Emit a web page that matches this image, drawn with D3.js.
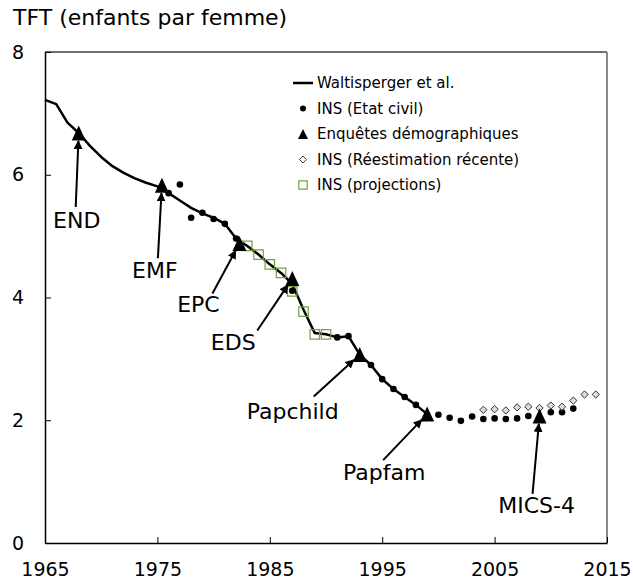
<!DOCTYPE html>
<html>
<head>
<meta charset="utf-8">
<script src="https://cdn.jsdelivr.net/npm/d3@7"></script>
<style>
  body { margin: 0; background: #fff; }
  svg { display: block; font-family: Verdana, "DejaVu Sans", sans-serif; }
</style>
</head>
<body>
<div id="chart"></div>
<script>
// -------------------- Data --------------------

// Waltisperger et al. (line)
const waltYears = [1965, 1966, 1967, 1968, 1969, 1970, 1971, 1972, 1973, 1974, 1975, 1976, 1977,
    1978, 1979, 1980, 1981, 1982, 1983, 1984, 1985, 1986, 1987, 1988, 1989, 1990, 1991, 1992,
    1993, 1994, 1995, 1996, 1997, 1998, 1999];
const waltValues = [7.22, 7.15, 6.85, 6.68, 6.47, 6.29, 6.14, 6.03, 5.94, 5.87, 5.81, 5.70, 5.58,
    5.46, 5.37, 5.30, 5.20, 4.96, 4.84, 4.70, 4.54, 4.40, 4.22, 3.80, 3.42, 3.40, 3.35, 3.37,
    3.07, 2.90, 2.67, 2.51, 2.38, 2.25, 2.10];

// INS (Etat civil)
const civilYears = [1976, 1977, 1978, 1979, 1980, 1981, 1982, 1987, 1991, 1992, 1994, 1995, 1996,
    1997, 1998, 2000, 2001, 2002, 2003, 2004, 2005, 2006, 2007, 2008, 2010, 2011, 2012];
const civilValues = [5.70, 5.84, 5.30, 5.38, 5.28, 5.20, 4.96, 4.11, 3.35, 3.37, 2.90, 2.67, 2.51,
    2.38, 2.25, 2.09, 2.04, 1.99, 2.06, 2.02, 2.03, 2.02, 2.03, 2.07, 2.13, 2.13, 2.19];

// Enquêtes démographiques
const surveyNames = ["END", "EMF", "EPC", "EDS", "Papchild", "Papfam", "MICS-4"];
const surveyYears = [1968, 1975.4, 1982.3, 1987, 1993, 1999, 2009];
const surveyValues = [6.68, 5.83, 4.88, 4.31, 3.07, 2.10, 2.07];

// INS (Réestimation récente)
const reestYears = [2004, 2005, 2006, 2007, 2008, 2009, 2010, 2011, 2012, 2013, 2014];
const reestValues = [2.17, 2.18, 2.16, 2.21, 2.22, 2.20, 2.24, 2.22, 2.32, 2.42, 2.42];

// INS (projections)
const projYears = [1983, 1984, 1985, 1986, 1987, 1988, 1989, 1990];
const projValues = [4.84, 4.70, 4.54, 4.40, 4.10, 3.77, 3.40, 3.40];

const xTicks = [1965, 1975, 1985, 1995, 2005, 2015];
const yTicks = [0, 2, 4, 6, 8];

// label / arrow placement (pixel offsets from each survey point)
const annotLayout = [
    { tail: [-3, 74], label: [-2, 95] },
    { tail: [-4, 73], label: [-7, 93] },
    { tail: [-27, 50], label: [-41, 69] },
    { tail: [-35, 52], label: [-59, 72] },
    { tail: [-46, 42], label: [-67, 64] },
    { tail: [-44, 46], label: [-43, 66] },
    { tail: [-7, 78], label: [-3, 97] }
];

// -------------------- Chart --------------------

const WIDTH = 633;
const HEIGHT = 580;
const margin = { top: 52, right: 26, bottom: 37, left: 45 };

const svg = d3.select("#chart")
    .append("svg")
    .attr("width", WIDTH)
    .attr("height", HEIGHT);

const x = d3.scaleLinear().domain([1965, 2015]).range([margin.left, WIDTH - margin.right]);
const y = d3.scaleLinear().domain([0, 8]).range([HEIGHT - margin.bottom, margin.top]);

const zip = (xs, ys) => xs.map((d, i) => ({ year: d, value: ys[i] }));

// triangle marker, a bit taller than wide (like the spreadsheet one)
const tallTriangle = (w, h) => ({
    draw(ctx) {
        ctx.moveTo(0, -h / 2);
        ctx.lineTo(w / 2, h / 2);
        ctx.lineTo(-w / 2, h / 2);
        ctx.closePath();
    }
});

// frame (top + right)
svg.append("line")
    .attr("x1", x(1965)).attr("x2", x(2015))
    .attr("y1", y(8)).attr("y2", y(8))
    .attr("stroke", "#404040").attr("stroke-width", 1.5);
svg.append("line")
    .attr("x1", x(2015)).attr("x2", x(2015))
    .attr("y1", y(8)).attr("y2", y(0))
    .attr("stroke", "#888").attr("stroke-width", 2);

// axes
const xAxis = svg.append("g")
    .attr("transform", `translate(0,${y(0)})`)
    .call(d3.axisBottom(x).tickValues(xTicks).tickFormat(d3.format("d"))
        .tickSizeInner(-6).tickSizeOuter(0).tickPadding(20));
const yAxis = svg.append("g")
    .attr("transform", `translate(${x(1965)},0)`)
    .call(d3.axisLeft(y).tickValues(yTicks).tickSizeInner(-6).tickSizeOuter(0).tickPadding(21));

[xAxis, yAxis].forEach(g => {
    g.select(".domain").attr("stroke", "#000").attr("stroke-width", 1.5);
    g.selectAll(".tick line").attr("stroke", "#000").attr("stroke-width", 1);
    g.selectAll(".tick text")
        .attr("fill", "#000")
        .attr("font-size", 19)
        .attr("font-family", "Verdana, 'DejaVu Sans', sans-serif");
});

// title
svg.append("text")
    .attr("x", 13)
    .attr("y", 25)
    .attr("font-size", 22)
    .attr("fill", "#000")
    .text("TFT (enfants par femme)");

// Waltisperger line
const line = d3.line().x(d => x(d.year)).y(d => y(d.value));
svg.append("path")
    .datum(zip(waltYears, waltValues))
    .attr("fill", "none")
    .attr("stroke", "#000")
    .attr("stroke-width", 2.5)
    .attr("stroke-linejoin", "round")
    .attr("d", line);

// projections (squares)
const squareSym = d3.symbol().type(d3.symbolSquare).size(90);
svg.append("g")
    .selectAll("path")
    .data(zip(projYears, projValues))
    .join("path")
    .attr("transform", d => `translate(${x(d.year)},${y(d.value)})`)
    .attr("d", squareSym)
    .attr("fill", "none")
    .attr("stroke", "#77a043")
    .attr("stroke-width", 1.2);

// INS etat civil (dots)
svg.append("g")
    .selectAll("circle")
    .data(zip(civilYears, civilValues))
    .join("circle")
    .attr("cx", d => x(d.year))
    .attr("cy", d => y(d.value))
    .attr("r", 3.3)
    .attr("fill", "#000");

// reestimation (diamonds)
const diamondSym = d3.symbol().type(d3.symbolDiamond2).size(34);
svg.append("g")
    .selectAll("path")
    .data(zip(reestYears, reestValues))
    .join("path")
    .attr("transform", d => `translate(${x(d.year)},${y(d.value)})`)
    .attr("d", diamondSym)
    .attr("fill", "#dcdcdc")
    .attr("stroke", "#333")
    .attr("stroke-width", 1);

// surveys (triangles)
const surveys = surveyNames.map((n, i) => ({ name: n, year: surveyYears[i], value: surveyValues[i], layout: annotLayout[i] }));
const triSym = d3.symbol().type(tallTriangle(14, 15));
svg.append("g")
    .selectAll("path")
    .data(surveys)
    .join("path")
    .attr("transform", d => `translate(${x(d.year)},${y(d.value)})`)
    .attr("d", triSym)
    .attr("fill", "#000");

// arrows
svg.append("defs").append("marker")
    .attr("id", "arrow")
    .attr("viewBox", "0 0 10 10")
    .attr("refX", 9).attr("refY", 5)
    .attr("markerWidth", 4.5).attr("markerHeight", 4.5)
    .attr("orient", "auto")
    .append("path")
    .attr("d", "M0,0L10,5L0,10z")
    .attr("fill", "#000");

const annot = svg.append("g");
surveys.forEach(d => {
    const px = x(d.year), py = y(d.value);
    const tx = px + d.layout.tail[0], ty = py + d.layout.tail[1];
    const len = Math.hypot(tx - px, ty - py);
    const gap = 8;
    const hx = px + (tx - px) / len * gap, hy = py + (ty - py) / len * gap;
    annot.append("line")
        .attr("x1", tx).attr("y1", ty)
        .attr("x2", hx).attr("y2", hy)
        .attr("stroke", "#000")
        .attr("stroke-width", 2)
        .attr("marker-end", "url(#arrow)");
    annot.append("text")
        .attr("x", px + d.layout.label[0])
        .attr("y", py + d.layout.label[1])
        .attr("text-anchor", "middle")
        .attr("font-size", 22)
        .attr("fill", "#000")
        .text(d.name);
});

// legend
const legendItems = [
    { label: "Waltisperger et al.", kind: "line" },
    { label: "INS (Etat civil)", kind: "dot" },
    { label: "Enquêtes démographiques", kind: "tri" },
    { label: "INS (Réestimation récente)", kind: "diamond" },
    { label: "INS (projections)", kind: "square" }
];
const legend = svg.append("g").attr("transform", "translate(303,83)");
const rows = legend.selectAll("g")
    .data(legendItems)
    .join("g")
    .attr("transform", (d, i) => `translate(0,${i * 25.5})`);

rows.each(function (d) {
    const g = d3.select(this);
    if (d.kind === "line") {
        g.append("line").attr("x1", -10).attr("x2", 10).attr("stroke", "#000").attr("stroke-width", 2.5);
    } else if (d.kind === "dot") {
        g.append("circle").attr("r", 3).attr("fill", "#000");
    } else if (d.kind === "tri") {
        g.append("path").attr("d", d3.symbol().type(tallTriangle(10, 10))).attr("fill", "#000");
    } else if (d.kind === "diamond") {
        g.append("path").attr("d", d3.symbol().type(d3.symbolDiamond2).size(30))
            .attr("fill", "#fff").attr("stroke", "#333").attr("stroke-width", 1);
    } else {
        g.append("path").attr("d", d3.symbol().type(d3.symbolSquare).size(70))
            .attr("fill", "none").attr("stroke", "#77a043").attr("stroke-width", 1.2);
    }
});

rows.append("text")
    .attr("x", 14)
    .attr("dy", "0.35em")
    .attr("font-size", 15)
    .attr("fill", "#000")
    .text(d => d.label);
</script>
</body>
</html>
